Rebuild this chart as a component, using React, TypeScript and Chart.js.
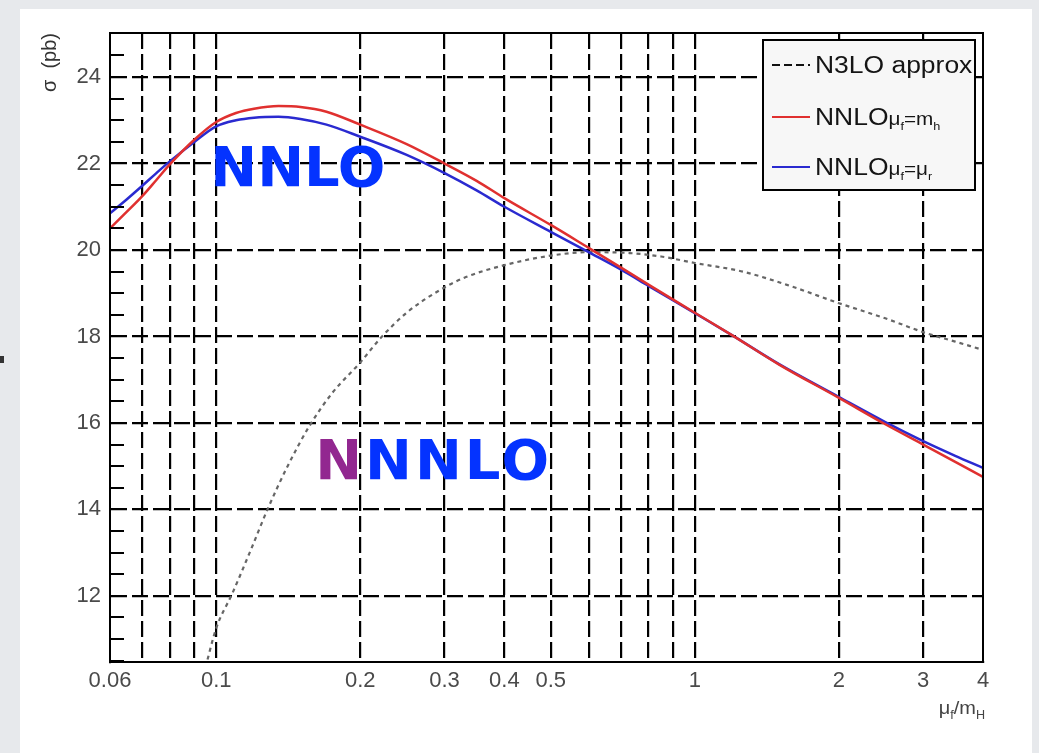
import React, { useEffect, useRef } from "react";
import { Chart, registerables } from "chart.js";

Chart.register(...registerables);

// ---- axis ticks ----
const xTickValues = [0.06, 0.07, 0.08, 0.09, 0.1, 0.2, 0.3, 0.4, 0.5, 0.6, 0.7, 0.8, 0.9, 1, 2, 3, 4];
const xLabeledTicks = [0.06, 0.1, 0.2, 0.3, 0.4, 0.5, 1, 2, 3, 4];
const yTickValues = [12, 14, 16, 18, 20, 22, 24];
const yMinorTicks = [10.5, 11, 11.5, 12.5, 13, 13.5, 14.5, 15, 15.5, 16.5, 17, 17.5, 18.5, 19, 19.5, 20.5, 21, 21.5, 22.5, 23, 23.5, 24.5];

// ---- series ----
const nnloMhX = [0.06, 0.065, 0.07, 0.075, 0.08, 0.09, 0.1, 0.11, 0.12, 0.135, 0.15, 0.17, 0.2, 0.25, 0.3, 0.35, 0.4, 0.5, 0.6, 0.7, 0.8, 1.0, 1.2, 1.5, 2.0, 2.5, 3.0, 3.5, 4.0];
const nnloMhY = [20.5, 20.88, 21.24, 21.62, 21.98, 22.55, 22.96, 23.17, 23.27, 23.33, 23.31, 23.2, 22.9, 22.45, 22.0, 21.6, 21.2, 20.58, 20.05, 19.6, 19.2, 18.55, 18.02, 17.35, 16.58, 15.97, 15.5, 15.1, 14.75];

const nnloMuX = [0.06, 0.065, 0.07, 0.075, 0.08, 0.09, 0.1, 0.11, 0.12, 0.135, 0.15, 0.17, 0.2, 0.25, 0.3, 0.35, 0.4, 0.5, 0.6, 0.7, 0.8, 1.0, 1.2, 1.5, 2.0, 2.5, 3.0, 3.5, 4.0];
const nnloMuY = [20.85, 21.17, 21.48, 21.78, 22.05, 22.5, 22.86, 23.0, 23.06, 23.08, 23.03, 22.9, 22.62, 22.2, 21.78, 21.38, 21.0, 20.42, 19.95, 19.55, 19.17, 18.54, 18.02, 17.36, 16.6, 16.02, 15.58, 15.24, 14.96];

const n3loX = [0.095, 0.1, 0.108, 0.118, 0.128, 0.141, 0.157, 0.175, 0.2, 0.22, 0.25, 0.293, 0.33, 0.4, 0.5, 0.6, 0.73, 0.85, 1.0, 1.26, 1.6, 2.0, 2.5, 3.0, 3.5, 4.0];
const n3loY = [10.35, 11.25, 12.05, 13.05, 14.0, 15.0, 15.95, 16.7, 17.4, 17.95, 18.55, 19.07, 19.36, 19.65, 19.87, 19.95, 19.93, 19.85, 19.7, 19.5, 19.15, 18.77, 18.42, 18.1, 17.88, 17.69];

// ---- annotation anchors (data coordinates) ----
const nnloLabelAt = { x: 0.0972, y: 21.47 };
const nnnloLabelAt = { x: 0.161, y: 14.7 };

const zip = (xs: number[], ys: number[]) => xs.map((x, i) => ({ x, y: ys[i] }));

type Part = [string, number, number];

function richWidth(ctx: CanvasRenderingContext2D, parts: Part[], sx: number) {
  let w = 0;
  for (const [t, size] of parts) {
    ctx.font = `${size}px "Liberation Sans"`;
    w += ctx.measureText(t).width;
  }
  return w * sx;
}

function drawRich(ctx: CanvasRenderingContext2D, parts: Part[], x: number, y: number, sx: number, color: string) {
  ctx.save();
  ctx.translate(x, y);
  ctx.scale(sx, 1);
  ctx.fillStyle = color;
  ctx.textBaseline = "alphabetic";
  ctx.textAlign = "left";
  let cx = 0;
  for (const [t, size, dy] of parts) {
    ctx.font = `${size}px "Liberation Sans"`;
    ctx.fillText(t, cx, dy);
    cx += ctx.measureText(t).width;
  }
  ctx.restore();
}

const decorPlugin = {
  id: "decor",
  beforeDraw(chart: any) {
    const ctx = chart.ctx as CanvasRenderingContext2D;
    ctx.save();
    ctx.fillStyle = "#e7e9ec";
    ctx.fillRect(0, 0, chart.width, chart.height);
    ctx.fillStyle = "#ffffff";
    ctx.fillRect(20, 9, 1012, 744);
    ctx.fillStyle = "#333";
    ctx.fillRect(0, 356, 4, 7);
    ctx.restore();
  },
  afterDraw(chart: any) {
    const ctx = chart.ctx as CanvasRenderingContext2D;
    const ca = chart.chartArea;
    const xs = chart.scales.x;
    const ys = chart.scales.y;
    ctx.save();

    // minor y ticks
    ctx.strokeStyle = "#000";
    ctx.lineWidth = 2;
    ctx.setLineDash([]);
    for (const v of yMinorTicks) {
      const py = Math.round(ys.getPixelForValue(v));
      ctx.beginPath();
      ctx.moveTo(ca.left, py);
      ctx.lineTo(ca.left + 14, py);
      ctx.stroke();
    }

    // frame
    ctx.lineWidth = 2;
    ctx.strokeRect(ca.left, ca.top, ca.right - ca.left, ca.bottom - ca.top);

    // legend box
    const lx = 763, ly = 40, lw = 212, lh = 150;
    ctx.fillStyle = "#f7f7f7";
    ctx.fillRect(lx, ly, lw, lh);
    const rows = [
      { y: 65, color: "#111", dash: [8, 4], parts: [["N3LO approx", 23, 0]] as Part[] },
      { y: 117, color: "#e0302f", dash: [], parts: [["NNLO", 23, 0], ["\u03bc", 18, 0], ["f", 11, 5], ["=", 18, 0], ["m", 18, 0], ["h", 11, 5]] as Part[] },
      { y: 167, color: "#2a2ad0", dash: [], parts: [["NNLO", 23, 0], ["\u03bc", 18, 0], ["f", 11, 5], ["=", 18, 0], ["\u03bc", 18, 0], ["r", 11, 5]] as Part[] },
    ];
    for (const r of rows) {
      ctx.strokeStyle = r.color;
      ctx.lineWidth = 2;
      ctx.setLineDash(r.dash);
      ctx.beginPath();
      ctx.moveTo(772, r.y);
      ctx.lineTo(810, r.y);
      ctx.stroke();
      drawRich(ctx, r.parts, 815, r.y + 8, 1.15, "#151515");
    }
    ctx.setLineDash([]);
    ctx.strokeStyle = "#000";
    ctx.lineWidth = 2;
    ctx.strokeRect(lx, ly, lw, lh);

    // big annotations
    ctx.textAlign = "left";
    ctx.textBaseline = "alphabetic";
    ctx.font = 'bold 56px "DejaVu Sans"';
    ctx.fillStyle = "#0433ff";
    ctx.fillText("NNLO", xs.getPixelForValue(nnloLabelAt.x), ys.getPixelForValue(nnloLabelAt.y));
    const nx = xs.getPixelForValue(nnnloLabelAt.x);
    const ny = ys.getPixelForValue(nnnloLabelAt.y);
    (ctx as any).letterSpacing = "3px";
    ctx.fillStyle = "#922790";
    ctx.fillText("N", nx, ny);
    const wN = ctx.measureText("N").width;
    ctx.fillStyle = "#0433ff";
    ctx.fillText("NNLO", nx + wN, ny);
    (ctx as any).letterSpacing = "0px";

    // y title (rotated)
    ctx.save();
    ctx.translate(50, 33);
    ctx.rotate(-Math.PI / 2);
    ctx.font = '20px "Liberation Sans"';
    ctx.fillStyle = "#333";
    ctx.textAlign = "right";
    ctx.textBaseline = "middle";
    ctx.fillText("\u03c3  (pb)", 0, 0);
    ctx.restore();

    // x title
    const xt: Part[] = [["\u03bc", 19, 0], ["f", 12, 5], ["/m", 19, 0], ["H", 12, 5]];
    const w = richWidth(ctx, xt, 1.05);
    drawRich(ctx, xt, 985 - w, 714, 1.05, "#444");

    ctx.restore();
  },
};

export default function App() {
  const ref = useRef<HTMLCanvasElement | null>(null);

  useEffect(() => {
    if (!ref.current) return;
    const tickFont = { family: '"Liberation Sans"', size: 22 };
    const chart = new Chart(ref.current, {
      type: "line",
      data: {
        datasets: [
          {
            label: "NNLO muf=mh",
            data: zip(nnloMhX, nnloMhY),
            borderColor: "#e0302f",
            borderWidth: 2.5,
            pointRadius: 0,
            cubicInterpolationMode: "monotone",
            order: 0,
          },
          {
            label: "NNLO muf=mur",
            data: zip(nnloMuX, nnloMuY),
            borderColor: "#2a2ad0",
            borderWidth: 2.5,
            pointRadius: 0,
            cubicInterpolationMode: "monotone",
            order: 1,
          },
          {
            label: "N3LO approx",
            data: zip(n3loX, n3loY),
            borderColor: "#666666",
            borderWidth: 2.2,
            borderDash: [4, 4],
            pointRadius: 0,
            cubicInterpolationMode: "monotone",
            order: 2,
          },
        ],
      },
      options: {
        animation: false,
        responsive: false,
        maintainAspectRatio: false,
        layout: { padding: { left: 0, top: 33, right: 56, bottom: 0 } },
        plugins: { legend: { display: false }, tooltip: { enabled: false } },
        scales: {
          x: {
            type: "logarithmic",
            min: 0.06,
            max: 4,
            afterBuildTicks: (s: any) => {
              s.ticks = xTickValues.map((v) => ({ value: v }));
            },
            afterFit: (s: any) => {
              s.height = 91;
            },
            ticks: {
              autoSkip: false,
              maxRotation: 0,
              minRotation: 0,
              padding: 6,
              color: "#4a4a4a",
              font: tickFont,
              callback: (v: any) => (xLabeledTicks.includes(Number(v)) ? String(v) : ""),
            },
            grid: {
              color: (c: any) =>
                c.tick && (c.tick.value === 0.06 || c.tick.value === 4) ? "rgba(0,0,0,0)" : "#000",
              lineWidth: 2.2,
              drawTicks: false,
            },
            border: { display: true, color: "#000", width: 2, dash: [16, 5] },
          },
          y: {
            type: "linear",
            min: 10.47,
            max: 25.02,
            afterBuildTicks: (s: any) => {
              s.ticks = yTickValues.map((v) => ({ value: v }));
            },
            afterFit: (s: any) => {
              s.width = 110;
            },
            ticks: {
              padding: 9,
              color: "#4a4a4a",
              font: tickFont,
            },
            grid: { color: "#000", lineWidth: 2.2, drawTicks: false },
            border: { display: true, color: "#000", width: 2, dash: [16, 5] },
          },
        },
      } as any,
      plugins: [decorPlugin],
    });
    return () => chart.destroy();
  }, []);

  return (
    <canvas
      ref={ref}
      width={1039}
      height={753}
      style={{ position: "absolute", left: 0, top: 0, width: 1039, height: 753, display: "block" }}
    />
  );
}
